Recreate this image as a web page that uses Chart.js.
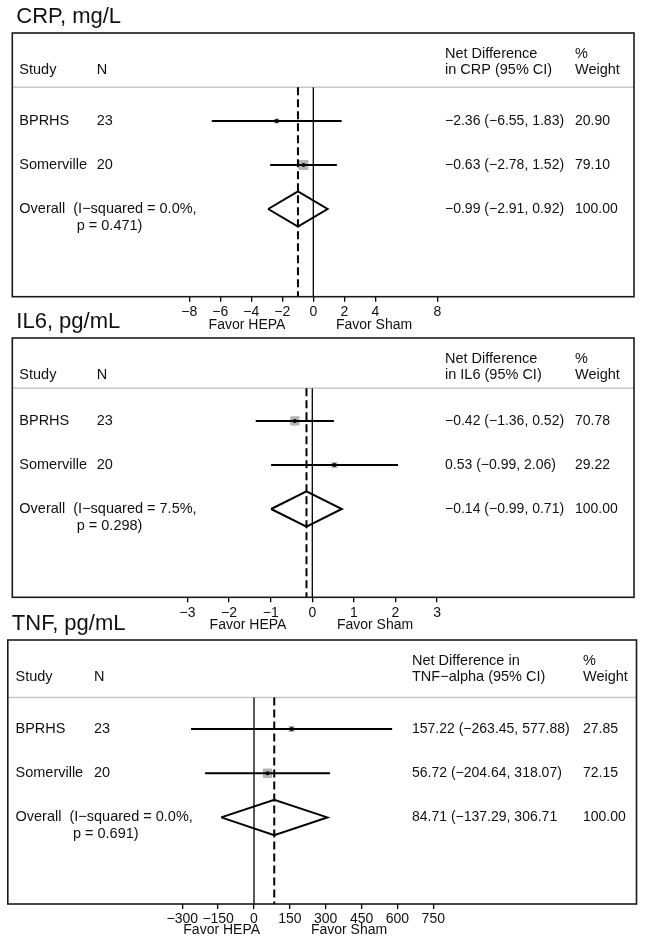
<!DOCTYPE html>
<html>
<head>
<meta charset="utf-8">
<title>Forest plots: CRP, IL6, TNF</title>
<script src="https://cdn.jsdelivr.net/npm/chart.js@4.4.1/dist/chart.umd.min.js"></script>
<style>
  html, body { margin: 0; padding: 0; background: #fff; }
  body { width: 645px; height: 944px; position: relative; overflow: hidden; }
  canvas { position: absolute; left: 0; }
</style>
</head>
<body>
<canvas id="crpChart" width="645" height="340" style="top:0px"></canvas>
<canvas id="il6Chart" width="645" height="340" style="top:300px"></canvas>
<canvas id="tnfChart" width="645" height="344" style="top:600px"></canvas>

<script>
// Studies (same for all three markers)
const studies = ['BPRHS', 'Somerville'];
const studyN = [23, 20];

// CRP, mg/L
const crpEst = [-2.36, -0.63];
const crpLow = [-6.55, -2.78];
const crpHigh = [1.83, 1.52];
const crpWeight = [20.90, 79.10];
const crpOverall = [-0.99, -2.91, 0.92]; // estimate, low, high
const crpHet = [0.0, 0.471];             // I-squared %, p
const crpTicks = [-8, -6, -4, -2, 0, 2, 4, 8];

// IL6, pg/mL
const il6Est = [-0.42, 0.53];
const il6Low = [-1.36, -0.99];
const il6High = [0.52, 2.06];
const il6Weight = [70.78, 29.22];
const il6Overall = [-0.14, -0.99, 0.71];
const il6Het = [7.5, 0.298];
const il6Ticks = [-3, -2, -1, 0, 1, 2, 3];

// TNF, pg/mL
const tnfEst = [157.22, 56.72];
const tnfLow = [-263.45, -204.64];
const tnfHigh = [577.88, 318.07];
const tnfWeight = [27.85, 72.15];
const tnfOverall = [84.71, -137.29, 306.71];
const tnfHet = [0.0, 0.691];
const tnfTicks = [-300, -150, 0, 150, 300, 450, 600, 750];

const FONT = "'Liberation Sans', Arial, Helvetica, sans-serif";
Chart.defaults.font.family = FONT;
Chart.defaults.color = '#000';

const minus = s => s.replace(/-/g, '\u2212');
const fmt = v => minus(v.toFixed(2));

// layout of each panel (page pixels)
const panels = [
    {
        id: 'crpChart', title: 'CRP, mg/L', head: ['Net Difference', 'in CRP (95% CI)'],
        est: crpEst, low: crpLow, high: crpHigh, weight: crpWeight, overall: crpOverall, het: crpHet, ticks: crpTicks,
        top: 0, height: 340, box: { l: 12.3, r: 634, t: 33, b: 296.7 },
        zeroPx: 313.3, pxPerUnit: 15.5, yMin: -1.0, yMax: 4.993, sepY: 0.234,
        cols: [19.3, 96.7, 445, 575], favorX: [247, 374], favorDy: 28.3, closeParen: true
    },
    {
        id: 'il6Chart', title: 'IL6, pg/mL', head: ['Net Difference', 'in IL6 (95% CI)'],
        est: il6Est, low: il6Low, high: il6High, weight: il6Weight, overall: il6Overall, het: il6Het, ticks: il6Ticks,
        top: 300, height: 340, box: { l: 12.3, r: 634, t: 338, b: 597.3 },
        zeroPx: 312.3, pxPerUnit: 41.6, yMin: -0.886, yMax: 5.007, sepY: 0.257,
        cols: [19.3, 96.7, 445, 575], favorX: [248, 375], favorDy: 27.7, closeParen: true
    },
    {
        id: 'tnfChart', title: 'TNF, pg/mL', head: ['Net Difference in', 'TNF\u2212alpha (95% CI)'],
        est: tnfEst, low: tnfLow, high: tnfHigh, weight: tnfWeight, overall: tnfOverall, het: tnfHet, ticks: tnfTicks,
        top: 600, height: 344, box: { l: 7.8, r: 636.5, t: 640, b: 904 },
        zeroPx: 254, pxPerUnit: 0.23905, yMin: -1.014, yMax: 4.959, sepY: 0.287,
        cols: [15.5, 94, 412, 583], favorX: [221.7, 349], favorDy: 26, closeParen: false
    }
];

function makeTablePlugin(p) {
    return {
        id: 'forestTable',
        beforeDatasetsDraw(chart) {
            const { ctx, chartArea: a, scales } = chart;
            // grey rule under the header
            const sy = scales.y.getPixelForValue(p.sepY);
            ctx.save();
            ctx.strokeStyle = '#c8c8c8';
            ctx.lineWidth = 1.5;
            ctx.beginPath();
            ctx.moveTo(a.left, sy);
            ctx.lineTo(a.right, sy);
            ctx.stroke();
            ctx.restore();
        },
        afterDraw(chart) {
            const { ctx, chartArea: a, scales } = chart;
            ctx.save();
            ctx.strokeStyle = '#1a1a1a';
            ctx.lineWidth = 1.6;
            ctx.strokeRect(a.left, a.top, a.right - a.left, a.bottom - a.top);

            ctx.fillStyle = '#111';
            ctx.textBaseline = 'middle';
            ctx.textAlign = 'left';
            ctx.font = `22px ${FONT}`;
            ctx.fillText(p.title, a.left + 4, a.top - 16.3);

            const bigFont = `14.5px ${FONT}`, numFont = `14px ${FONT}`;
            ctx.font = bigFont;
            const [c0, c1, c2, c3] = p.cols;
            const h1 = a.top + 20.7, h2 = a.top + 36.5;
            ctx.fillText('Study', c0, h2);
            ctx.fillText('N', c1, h2);
            ctx.fillText(p.head[0], c2, h1);
            ctx.fillText(p.head[1], c2, h2);
            ctx.fillText('%', c3, h1);
            ctx.fillText('Weight', c3, h2);

            p.est.forEach((v, i) => {
                const y = scales.y.getPixelForValue(i + 1);
                ctx.font = bigFont;
                ctx.fillText(studies[i], c0, y);
                ctx.fillText(String(studyN[i]), c1, y);
                ctx.font = numFont;
                ctx.fillText(`${fmt(v)} (${fmt(p.low[i])}, ${fmt(p.high[i])})`, c2, y);
                ctx.fillText(p.weight[i].toFixed(2), c3, y);
            });

            const oy = scales.y.getPixelForValue(p.est.length + 1);
            const [oe, ol, oh] = p.overall;
            const total = p.weight.reduce((s, w) => s + w, 0);
            ctx.font = bigFont;
            ctx.fillText(`Overall  (I\u2212squared = ${p.het[0].toFixed(1)}%,`, c0, oy);
            ctx.fillText(`p = ${p.het[1].toFixed(3)})`, c0 + 57.4, oy + 17);
            ctx.font = numFont;
            ctx.fillText(`${fmt(oe)} (${fmt(ol)}, ${fmt(oh)}${p.closeParen ? ')' : ''}`, c2, oy);
            ctx.fillText(total.toFixed(2), c3, oy);

            ctx.font = `14px ${FONT}`;
            ctx.textAlign = 'center';
            ctx.fillText('Favor HEPA', p.favorX[0], a.bottom + p.favorDy);
            ctx.fillText('Favor Sham', p.favorX[1], a.bottom + p.favorDy);
            ctx.restore();
        }
    };
}

function buildForest(p) {
    const rows = p.est.map((_, i) => i + 1);
    const oRow = p.est.length + 1;
    const [oe, ol, oh] = p.overall;
    const dh = 0.4; // diamond half height (rows)

    const datasets = [];
    // point estimates
    datasets.push({
        data: p.est.map((v, i) => ({ x: v, y: rows[i] })),
        showLine: false, pointStyle: 'circle', pointRadius: 2,
        backgroundColor: '#000', borderWidth: 0, order: 1
    });
    // confidence intervals
    p.est.forEach((v, i) => {
        datasets.push({
            data: [{ x: p.low[i], y: rows[i] }, { x: p.high[i], y: rows[i] }],
            showLine: true, borderColor: '#000', borderWidth: 2, pointRadius: 0, order: 2
        });
    });
    // pooled diamond
    datasets.push({
        data: [
            { x: ol, y: oRow }, { x: oe, y: oRow - dh }, { x: oh, y: oRow },
            { x: oe, y: oRow + dh }, { x: ol, y: oRow }
        ],
        showLine: true, borderColor: '#000', borderWidth: 2, pointRadius: 0,
        borderJoinStyle: 'miter', order: 2
    });
    // overall estimate (dashed)
    datasets.push({
        data: [{ x: oe, y: p.sepY }, { x: oe, y: p.yMax }],
        showLine: true, borderColor: '#000', borderWidth: 2, borderDash: [8, 4], pointRadius: 0, order: 3
    });
    // no effect line
    datasets.push({
        data: [{ x: 0, y: p.sepY }, { x: 0, y: p.yMax }],
        showLine: true, borderColor: '#000', borderWidth: 1.3, pointRadius: 0, order: 3
    });
    // weight squares (side ~ sqrt of weight)
    datasets.push({
        data: p.est.map((v, i) => ({ x: v, y: rows[i] })),
        showLine: false, pointStyle: 'rect',
        pointRadius: p.weight.map(w => 1.1 * Math.sqrt(w) / Math.SQRT2),
        backgroundColor: '#b4b4b4', borderWidth: 0, order: 6
    });

    const ctx = document.getElementById(p.id).getContext('2d');
    return new Chart(ctx, {
        type: 'scatter',
        data: { datasets },
        options: {
            responsive: false,
            animation: false,
            events: [],
            layout: {
                padding: { left: p.box.l, right: 645 - p.box.r, top: p.box.t - p.top, bottom: 0 }
            },
            plugins: { legend: { display: false }, tooltip: { enabled: false }, title: { display: false } },
            scales: {
                x: {
                    type: 'linear',
                    position: 'bottom',
                    min: (p.box.l - p.zeroPx) / p.pxPerUnit,
                    max: (p.box.r - p.zeroPx) / p.pxPerUnit,
                    afterBuildTicks: s => { s.ticks = p.ticks.map(v => ({ value: v })); },
                    afterFit: s => { s.height = p.top + p.height - p.box.b; },
                    grid: { drawOnChartArea: false, drawTicks: true, tickLength: 5, color: '#000', lineWidth: 1.3 },
                    border: { display: false },
                    ticks: {
                        autoSkip: false, maxRotation: 0, padding: 2,
                        font: { size: 14 }, color: '#111',
                        callback: v => minus(String(v))
                    }
                },
                y: { type: 'linear', display: false, reverse: true, min: p.yMin, max: p.yMax }
            }
        },
        plugins: [makeTablePlugin(p)]
    });
}

panels.forEach(buildForest);
</script>
</body>
</html>
